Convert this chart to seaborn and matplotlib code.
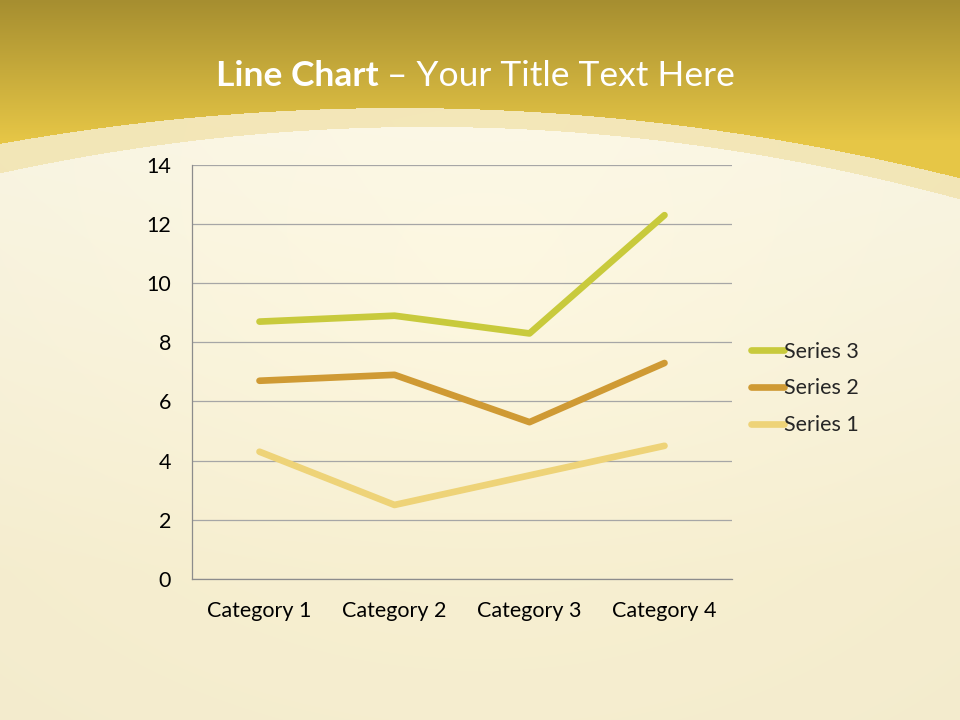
import numpy as np
import pandas as pd
import matplotlib
matplotlib.use("Agg")
from matplotlib import pyplot as plt
from matplotlib.ticker import FixedLocator
import seaborn as sns

# data as in the default Excel stacked line chart
categories = ["Category 1", "Category 2", "Category 3", "Category 4"]
series_1 = [4.3, 2.5, 3.5, 4.5]
series_2 = [2.4, 4.4, 1.8, 2.8]
series_3 = [2.0, 2.0, 3.0, 5.0]
series_names = ["Series 1", "Series 2", "Series 3"]
colors = {"Series 1": "#EED378", "Series 2": "#CF9A34", "Series 3": "#C8CA3C"}

# stacked totals (the chart is a stacked line chart)
stacked = np.cumsum([series_1, series_2, series_3], axis=0)
rows = []
for name, vals in zip(series_names, stacked):
    for cat, v in zip(categories, vals):
        rows.append({"category": cat, "value": v, "series": name})
df = pd.DataFrame(rows)
df["pos"] = df["category"].map({c: i for i, c in enumerate(categories)})

sns.set_style("white")
plt.rcParams["font.family"] = ["Lato", "DejaVu Sans"]

fig = plt.figure(figsize=(9.6, 7.2), dpi=100)

# background: golden header, curved light band, cream body
W, H = 960, 720
yy, xx = np.mgrid[0:H, 0:W].astype(float)
top = np.array([166, 142, 48]) / 255
mid = np.array([230, 198, 70]) / 255
t = np.clip(yy / 140.0, 0, 1)[..., None]
header = top * (1 - t) + mid * t
body_top = np.array([254, 250, 232]) / 255
body_bot = np.array([251, 243, 212]) / 255
tb = np.clip((yy - 120) / 450.0, 0, 1)[..., None]
body = body_top * (1 - tb) + body_bot * tb
r = np.sqrt(((xx - 480) / 600) ** 2 + ((yy - 300) / 450) ** 2)[..., None]
body = body * (1 - 0.025 * np.clip(r, 0, 1.5))
outer = np.polyval(np.polyfit([0, 260, 480, 700, 960], [143, 113, 108, 128, 178], 2), xx)
inner = np.polyval(np.polyfit([0, 260, 480, 700, 960], [172, 135, 128, 143, 200], 2), xx)
band = np.array([240, 224, 165]) / 255
img = np.where((yy < outer)[..., None], header,
               np.where((yy < inner)[..., None], band * 0.7 + body * 0.3, body))
bg = fig.add_axes([0, 0, 1, 1])
bg.imshow(img, aspect="auto", extent=[0, W, H, 0])
bg.axis("off")

fig.text(0.394, 0.895, "Line Chart", color="white", fontsize=25.5,
         fontweight="bold", ha="right", va="center")
fig.text(0.394, 0.895, " \u2013 Your Title Text Here", color="white",
         fontsize=25.5, ha="left", va="center")

ax = fig.add_axes([0.2, 0.196, 0.5625, 0.575])
ax.patch.set_alpha(0)
sns.lineplot(data=df, x="pos", y="value", hue="series", palette=colors,
             hue_order=series_names, linewidth=4.8, ax=ax,
             solid_capstyle="round", solid_joinstyle="round")

ax.set_xlim(-0.5, 3.5)
ax.set_ylim(0, 14)
ax.set_yticks(range(0, 15, 2))
ax.set_xticks(range(4))
ax.set_xticklabels(categories)
ax.xaxis.set_minor_locator(FixedLocator([-0.5, 0.5, 1.5, 2.5, 3.5]))
ax.tick_params(axis="x", which="major", length=0, pad=16, labelsize=15.5, colors="black")
ax.tick_params(axis="x", which="minor", length=7, width=0.9, color="#8C8C8C", direction="out")
ax.tick_params(axis="y", length=7, width=0.9, color="#8C8C8C", pad=8, labelsize=15.5, labelcolor="black")
ax.grid(axis="y", color="#A6A6A6", linewidth=0.9)
ax.set_axisbelow(True)
for s in ["top", "right"]:
    ax.spines[s].set_visible(False)
for s in ["left", "bottom"]:
    ax.spines[s].set_color("#8C8C8C")
    ax.spines[s].set_linewidth(0.9)
ax.set_xlabel("")
ax.set_ylabel("")

handles, labels = ax.get_legend_handles_labels()
ax.legend(handles[::-1], labels[::-1], loc="center left",
          bbox_to_anchor=(1.02, 0.46), frameon=False, fontsize=15.5,
          handlelength=1.5, handletextpad=0.0, labelspacing=0.78,
          borderaxespad=0)

fig.savefig("out.png", dpi=100)
